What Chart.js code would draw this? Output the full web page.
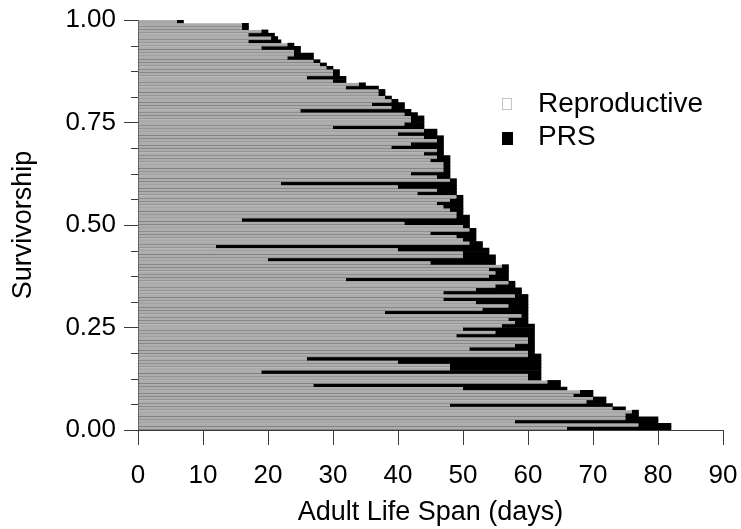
<!DOCTYPE html>
<html>
<head>
<meta charset="utf-8">
<script src="https://cdn.jsdelivr.net/npm/chart.js@4/dist/chart.umd.min.js"></script>
<style>
  html, body { margin: 0; padding: 0; background: #fff; }
  #wrap { position: relative; width: 741px; height: 529px; }
  canvas { position: absolute; left: 0; top: 0; }
  .lg { position: absolute; font-family: "Liberation Sans", Arial, sans-serif; font-size: 28px; line-height: 28px; color: #000; white-space: nowrap; }
  .box { position: absolute; box-sizing: border-box; }
</style>
</head>
<body>
<div id="wrap">
  <canvas id="c" width="741" height="529"></canvas>
  <div class="box" style="left:502px; top:98px; width:10px; height:12px; border:1px solid #c4c4c4; background:#fff;"></div>
  <div class="lg" style="left:538px; top:89px;">Reproductive</div>
  <div class="box" style="left:502px; top:132px; width:11px; height:13px; background:#000;"></div>
  <div class="lg" style="left:538px; top:122px;">PRS</div>
</div>
<script>
// End of reproductive period (days), one per individual, ordered from shortest to longest life span
const reproductiveEnd = [
  6,16,16,19,17,20.5,17,23,19,24,
  24,23,27,28,29,30,30,26,30,34,
  32,37,37,38,39,36,39,25,41,42,
  42,41,30,44,40,44,46,42,39,46,
  44,46,45,47,47,47,42,46,48,22,
  40,46,43,49,48,46,47,48,49,49,
  16,41,50,51,45,49,50,51,12,40,
  50,50,20,45,56,54,55,54,32,57,
  55,52,47,58,47,52,57,53,38,59,
  57,58,56,50,55,49,60,60,58,51,
  60,60,26,40,48,48,19,60,60,63,
  27,50,68,67,70,69,48,73,76,75,
  75,58,77,66
];
// Adult life span (days) of the same individuals
const lifeSpan = [
  7,17,17,20,21,21.5,22,24,25,25,
  27,27,28,29,30,31,31,32,32,35,
  37,38,38,39,40,41,41,42,43,44,
  44,44,44,46,46,47,47,47,47,47,
  47,48,48,48,48,48,48,48,49,49,
  49,49,49,50,50,50,50,50,50,51,
  51,51,51,52,52,52,52,53,53,54,
  54,55,55,55,57,57,57,57,57,58,
  58,59,59,60,60,60,60,60,60,60,
  60,60,61,61,61,61,61,61,61,61,
  61,62,62,62,62,62,62,62,62,65,
  65,66,70,70,72,72,73,75,77,77,
  80,80,82,82
];
const individuals = lifeSpan.map((_, i) => String(i + 1));
const xTicks = [0, 10, 20, 30, 40, 50, 60, 70, 80, 90];
const survMajorTicks = [0, 0.25, 0.5, 0.75, 1];
const survMinorTicks = [0.0625, 0.125, 0.1875, 0.3125, 0.375, 0.4375, 0.5625, 0.625, 0.6875, 0.8125, 0.875, 0.9375];

const FONT = '"Liberation Sans", Arial, sans-serif';
const AXIS = '#3a3a3a';

const minorTickPlugin = {
  id: 'minorTicks',
  afterDraw(chart) {
    const s = chart.scales.surv;
    const ctx = chart.ctx;
    ctx.save();
    ctx.strokeStyle = AXIS;
    ctx.lineWidth = 1;
    for (const v of survMinorTicks) {
      const y = Math.round(s.getPixelForValue(v)) + 0.5;
      ctx.beginPath();
      ctx.moveTo(s.right - 7, y);
      ctx.lineTo(s.right, y);
      ctx.stroke();
    }
    ctx.restore();
  }
};

new Chart(document.getElementById('c'), {
  type: 'bar',
  data: {
    labels: individuals,
    datasets: [
      {
        label: 'Reproductive',
        data: reproductiveEnd.map(r => [0, r]),
        backgroundColor: '#adadad',
        borderColor: '#7c7c7c',
        borderWidth: { top: 0, right: 0, bottom: 1, left: 0 },
        borderSkipped: false,
        grouped: false,
        barPercentage: 1,
        categoryPercentage: 1
      },
      {
        label: 'PRS',
        data: lifeSpan.map((d, i) => [reproductiveEnd[i], d]),
        backgroundColor: '#000000',
        borderWidth: 0,
        grouped: false,
        barPercentage: 1,
        categoryPercentage: 1
      }
    ]
  },
  options: {
    indexAxis: 'y',
    responsive: false,
    devicePixelRatio: 1,
    animation: false,
    layout: { padding: { top: 20, right: 18, bottom: 0, left: 0 } },
    plugins: { legend: { display: false }, tooltip: { enabled: false } },
    scales: {
      y: { type: 'category', display: false, offset: true },
      surv: {
        type: 'linear',
        axis: 'y',
        position: 'left',
        offset: false,
        min: 0, max: 1,
        afterBuildTicks(s) { s.ticks = survMajorTicks.map(v => ({ value: v })); },
        afterFit(s) { s.width = 138; s.paddingTop = 0; s.paddingBottom = 0; },
        ticks: {
          callback: v => Number(v).toFixed(2),
          font: { family: FONT, size: 26 },
          color: '#000',
          padding: 8
        },
        grid: { offset: false, drawOnChartArea: false, tickLength: 14, color: AXIS, tickColor: AXIS },
        border: { display: true, color: AXIS, width: 1 },
        title: {
          display: true, text: 'Survivorship',
          font: { family: FONT, size: 27 }, color: '#000',
          padding: { top: 7, bottom: 0 }
        }
      },
      x: {
        type: 'linear',
        position: 'bottom',
        offset: false,
        min: 0, max: 90,
        afterBuildTicks(s) { s.ticks = xTicks.map(v => ({ value: v })); },
        afterFit(s) { s.height = 99; s.paddingLeft = 0; s.paddingRight = 0; },
        ticks: {
          font: { family: FONT, size: 26 },
          color: '#000',
          padding: 15,
          maxRotation: 0
        },
        grid: { offset: false, drawOnChartArea: false, tickLength: 15, color: AXIS, tickColor: AXIS },
        border: { display: true, color: AXIS, width: 1 },
        title: {
          display: true, text: 'Adult Life Span (days)',
          font: { family: FONT, size: 27 }, color: '#000',
          padding: { top: 0, bottom: 0 }
        }
      }
    }
  },
  plugins: [minorTickPlugin]
});
</script>
</body>
</html>
